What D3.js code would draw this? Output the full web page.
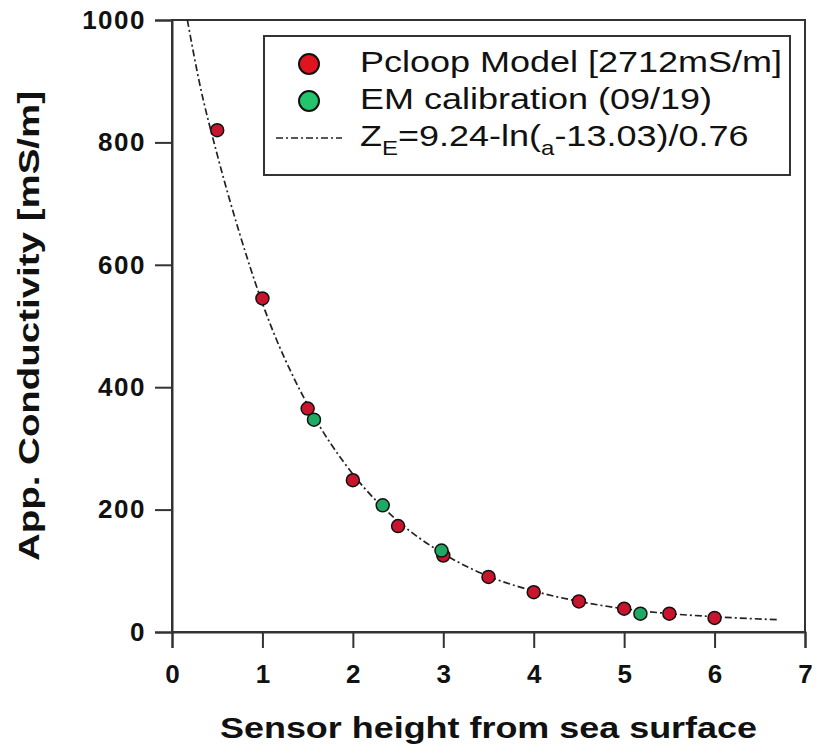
<!DOCTYPE html>
<html>
<head>
<meta charset="utf-8">
<script src="https://cdn.jsdelivr.net/npm/d3@7"></script>
<style>
  body { margin: 0; background: #fff; }
  svg { font-family: "Liberation Sans", Arial, sans-serif; }
</style>
</head>
<body>
<svg id="chart" width="817" height="755"></svg>
<script>
// model points (red)
const modelHeight = [0.5, 1.0, 1.5, 2.0, 2.5, 3.0, 3.5, 4.0, 4.5, 5.0, 5.5, 6.0];
const modelCond   = [820, 545, 365, 248, 173, 125, 90, 65, 50, 38, 30, 23];

// EM calibration points (green)
const emHeight = [1.57, 2.33, 2.98, 5.18];
const emCond   = [347, 207, 133, 30];

// fitted curve
const fitHeight = [0.17, 0.3, 0.5, 0.75, 1.0, 1.5, 2.0, 2.5, 3.0, 3.5, 4.0, 4.5, 5.0, 5.5, 6.0, 6.7];
const fitCond   = [1000, 900, 780, 650, 537, 371, 258, 181, 128, 91, 67, 50, 38, 30, 25, 20];

const xTicks = [0, 1, 2, 3, 4, 5, 6, 7];
const yTicks = [0, 200, 400, 600, 800, 1000];

const legendLabels = ["Pcloop Model [2712mS/m]", "EM calibration (09/19)"];

const redCol = "#c8142c";
const greenCol = "#1faa64";
const axisCol = "#333";

const svg = d3.select("#chart");
const padding = {top: 20, right: 12, bottom: 123, left: 172};
const width = 817, height = 755;

const x = d3.scaleLinear().domain([0, 7]).range([padding.left, width - padding.right]);
const y = d3.scaleLinear().domain([0, 1000]).range([height - padding.bottom, padding.top]);

// frame
svg.append("rect")
  .attr("x", x(0)).attr("y", y(1000))
  .attr("width", x(7) - x(0)).attr("height", y(0) - y(1000))
  .attr("fill", "none").attr("stroke", axisCol).attr("stroke-width", 2);

// x axis
const xAxis = svg.append("g")
  .attr("transform", "translate(0," + y(0) + ")")
  .call(d3.axisBottom(x).tickValues(xTicks).tickSize(16).tickPadding(17).tickFormat(d3.format("d")));
xAxis.select(".domain").attr("stroke", axisCol).attr("stroke-width", 2);
xAxis.selectAll(".tick line").attr("stroke", axisCol).attr("stroke-width", 2);
xAxis.selectAll(".tick text")
  .attr("font-size", 26).attr("font-weight", "bold").attr("fill", "#111")
  .attr("font-family", "Liberation Sans, Arial, sans-serif");

// y axis
const yAxis = svg.append("g")
  .attr("transform", "translate(" + x(0) + ",0)")
  .call(d3.axisLeft(y).tickValues(yTicks).tickSize(17).tickPadding(9).tickFormat(d3.format("d")));
yAxis.select(".domain").attr("stroke", axisCol).attr("stroke-width", 2);
yAxis.selectAll(".tick line").attr("stroke", axisCol).attr("stroke-width", 2);
yAxis.selectAll(".tick text")
  .attr("font-size", 26).attr("font-weight", "bold").attr("fill", "#111")
  .attr("letter-spacing", 1.5)
  .attr("font-family", "Liberation Sans, Arial, sans-serif");

// axis titles
svg.append("text")
  .attr("x", (x(0) + x(7)) / 2).attr("y", 738)
  .attr("text-anchor", "middle")
  .attr("font-size", 30).attr("font-weight", "bold").attr("fill", "#111")
  .attr("textLength", 537).attr("lengthAdjust", "spacingAndGlyphs")
  .text("Sensor height from sea surface");

svg.append("text")
  .attr("transform", "translate(39," + (y(0) + y(1000)) / 2 + ") rotate(-90)")
  .attr("text-anchor", "middle")
  .attr("font-size", 29).attr("font-weight", "bold").attr("fill", "#111")
  .attr("textLength", 470).attr("lengthAdjust", "spacingAndGlyphs")
  .text("App. Conductivity [mS/m]");

// fitted line
const fitData = fitHeight.map((h, i) => ({h: h, c: fitCond[i]}));
const dashStyle = "7,3,2,3";
svg.append("path")
  .datum(fitData)
  .attr("fill", "none")
  .attr("stroke", "#222")
  .attr("stroke-width", 1.7)
  .attr("stroke-dasharray", dashStyle)
  .attr("d", d3.line().x(d => x(d.h)).y(d => y(d.c)).curve(d3.curveMonotoneX));

// points
const modelData = modelHeight.map((h, i) => ({h: h, c: modelCond[i]}));
const emData = emHeight.map((h, i) => ({h: h, c: emCond[i]}));

svg.append("g").selectAll("circle")
  .data(modelData)
  .join("circle")
    .attr("cx", d => x(d.h)).attr("cy", d => y(d.c)).attr("r", 6.5)
    .attr("fill", redCol).attr("stroke", "#111").attr("stroke-width", 1.5);

svg.append("g").selectAll("circle")
  .data(emData)
  .join("circle")
    .attr("cx", d => x(d.h)).attr("cy", d => y(d.c)).attr("r", 6.5)
    .attr("fill", greenCol).attr("stroke", "#111").attr("stroke-width", 1.5);

// legend
const legend = svg.append("g");
legend.append("rect")
  .attr("x", 264).attr("y", 36).attr("width", 526).attr("height", 139)
  .attr("fill", "#fff").attr("stroke", axisCol).attr("stroke-width", 2);

const rowY = [64, 101, 138];
const textScale = 1.2;
[redCol, greenCol].forEach(function(col, i){
  legend.append("circle")
    .attr("cx", 309).attr("cy", rowY[i]).attr("r", 10)
    .attr("fill", col === redCol ? "#e0141e" : "#22c46c")
    .attr("stroke", "#111").attr("stroke-width", 2);
  legend.append("text")
    .attr("transform", "translate(360," + (rowY[i] + 8) + ") scale(" + textScale + ",1)")
    .attr("font-size", 30).attr("fill", "#111")
    .text(legendLabels[i]);
});

legend.append("line")
  .attr("x1", 276).attr("x2", 342).attr("y1", rowY[2]).attr("y2", rowY[2])
  .attr("stroke", "#222").attr("stroke-width", 1.6).attr("stroke-dasharray", dashStyle);

const eq = legend.append("text")
  .attr("transform", "translate(360," + (rowY[2] + 8) + ") scale(" + textScale + ",1)")
  .attr("font-size", 30).attr("fill", "#111");
eq.append("tspan").text("Z");
eq.append("tspan").attr("font-size", 20).attr("dy", 9).text("E");
eq.append("tspan").attr("dy", -9).text("=9.24-ln(");
eq.append("tspan").attr("font-size", 20).attr("dy", 9).text("a");
eq.append("tspan").attr("dy", -9).text("-13.03)/0.76");
</script>
</body>
</html>
